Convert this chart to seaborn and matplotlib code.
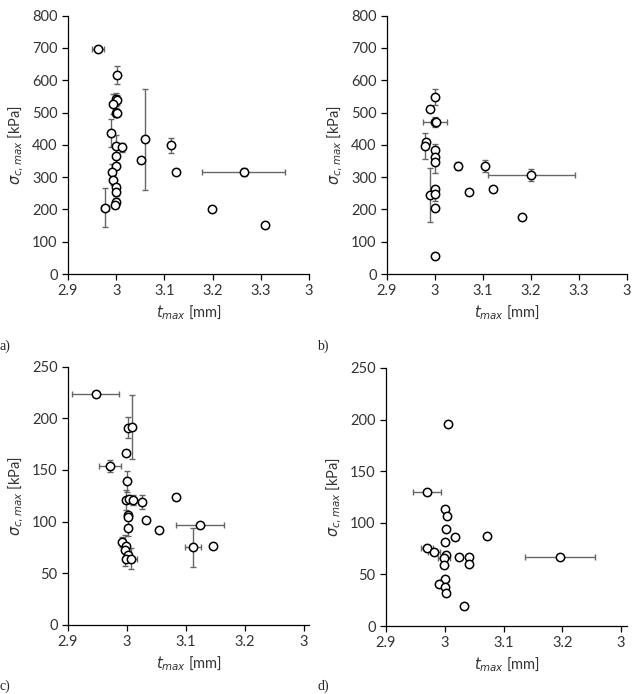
import numpy as np
import pandas as pd
import matplotlib
matplotlib.use("Agg")
import matplotlib.pyplot as plt
import seaborn as sns

sns.set_style("ticks")
plt.rcParams['font.family'] = ['Lato', 'DejaVu Sans']
plt.rcParams['mathtext.fontset'] = 'dejavusans'

# ---- Panel a ----
a_x = [2.962, 3.001, 3.000, 3.002, 2.993, 3.000, 3.002, 2.989, 3.000, 3.011, 2.999, 3.000,
       2.991, 2.994, 3.000, 2.999, 3.000, 2.998, 2.977, 3.060, 3.051, 3.114, 3.125, 3.265,
       3.199, 3.309]
a_y = [696, 616, 541, 538, 526, 500, 498, 436, 397, 392, 365, 334,
       316, 291, 268, 253, 224, 214, 205, 417, 352, 398, 316, 317,
       201, 153]
a_xerr = [0.013, 0, 0, 0, 0, 0, 0, 0, 0, 0, 0, 0,
          0, 0, 0, 0, 0, 0, 0.008, 0, 0, 0, 0, 0.086,
          0, 0]
a_yerr = [0, 27, 20, 15, 30, 15, 10, 43, 35, 15, 25, 10,
          25, 15, 10, 10, 10, 10, 60, 157, 0, 24, 0, 12,
          0, 0]

# ---- Panel b ----
b_x = [3.000, 2.990, 3.000, 3.002, 2.981, 2.979, 3.001, 3.000, 3.001, 3.000, 2.990, 3.001,
       3.001, 2.999, 3.048, 3.070, 3.105, 3.121, 3.181, 3.201]
b_y = [549, 512, 470, 470, 410, 397, 384, 363, 348, 263, 245, 247,
       203, 57, 334, 254, 335, 263, 177, 307]
b_xerr = [0, 0, 0.024, 0, 0, 0, 0.005, 0, 0, 0, 0, 0,
          0, 0, 0, 0, 0, 0, 0, 0.09]
b_yerr = [25, 0, 15, 0, 0, 40, 20, 0, 35, 0, 83, 20,
          0, 0, 12, 0, 18, 0, 0, 18]

# ---- Panel c ----
c_x = [2.947, 3.002, 3.009, 2.999, 2.971, 3.000, 2.998, 3.004, 3.011, 3.025, 3.002, 3.002,
       3.033, 3.001, 3.084, 3.055, 3.124, 3.112, 3.146, 2.992, 2.998, 2.997, 3.002, 2.999,
       3.007]
c_y = [224, 191, 192, 166, 154, 139, 121, 122, 121, 119, 106, 104,
       101, 94, 124, 92, 97, 75, 76, 80, 76, 72, 68, 64,
       64]
c_xerr = [0.04, 0, 0, 0, 0.019, 0, 0, 0, 0, 0, 0, 0,
          0, 0, 0, 0, 0.041, 0.014, 0, 0, 0, 0, 0, 0,
          0.01]
c_yerr = [0, 10, 31, 0, 6, 10, 10, 0, 5, 7, 0, 0,
          0, 8, 3, 0, 0, 19, 0, 5, 0, 15, 0, 0,
          10]

# ---- Panel d ----
d_x = [3.005, 2.970, 3.000, 3.003, 3.002, 3.018, 3.000, 3.072, 2.970, 2.982, 3.002, 2.999,
       3.024, 3.041, 3.042, 2.999, 3.001, 2.991, 3.000, 3.002, 3.033, 3.196]
d_y = [196, 130, 113, 107, 94, 86, 81, 87, 76, 72, 69, 66,
       67, 67, 60, 59, 46, 41, 38, 32, 19, 67]
d_xerr = [0, 0.024, 0, 0, 0, 0, 0, 0, 0.01, 0.01, 0, 0.01,
          0, 0, 0, 0, 0, 0, 0, 0, 0, 0.059]
d_yerr = [0, 0, 0, 0, 0, 0, 0, 0, 0, 0, 0, 0,
          0, 0, 0, 0, 0, 0, 0, 0, 0, 0]

x_ticks_ab = [2.9, 3.0, 3.1, 3.2, 3.3, 3.4]
x_labels_ab = ["2.9", "3", "3.1", "3.2", "3.3", "3"]
x_ticks_cd = [2.9, 3.0, 3.1, 3.2, 3.3]
x_labels_cd = ["2.9", "3", "3.1", "3.2", "3"]
y_ticks_ab = [0, 100, 200, 300, 400, 500, 600, 700, 800]
y_ticks_cd = [0, 50, 100, 150, 200, 250]
panel_labels = ["a)", "b)", "c)", "d)"]

W, H = 634, 694
fig = plt.figure(figsize=(W / 100, H / 100), dpi=100)

def rect(l, r, t, b):
    return [l / W, 1 - b / H, (r - l) / W, (b - t) / H]

panels = [
    (rect(68, 309, 15.7, 274), a_x, a_y, a_xerr, a_yerr, (2.9, 3.4), x_ticks_ab, x_labels_ab, (0, 800), y_ticks_ab),
    (rect(387, 627, 15.7, 274), b_x, b_y, b_xerr, b_yerr, (2.9, 3.4), x_ticks_ab, x_labels_ab, (0, 800), y_ticks_ab),
    (rect(68, 309, 366.7, 624.7), c_x, c_y, c_xerr, c_yerr, (2.9, 3.309), x_ticks_cd, x_labels_cd, (0, 250), y_ticks_cd),
    (rect(386, 627, 368, 626), d_x, d_y, d_xerr, d_yerr, (2.9, 3.31), x_ticks_cd, x_labels_cd, (0, 250), y_ticks_cd),
]

for (r, xs, ys, xe, ye, xl, xt, xtl, yl, yt) in panels:
    ax = fig.add_axes(r)
    ax.errorbar(xs, ys, xerr=xe, yerr=ye, fmt='none', ecolor='#666666',
                elinewidth=1.0, capsize=2.5, capthick=1.0, zorder=2)
    df = pd.DataFrame({"x": xs, "y": ys})
    sns.scatterplot(data=df, x="x", y="y", ax=ax, marker='o', s=36,
                    facecolor='white', edgecolor='black', linewidth=1.1, zorder=3)
    ax.set_xlim(*xl)
    ax.set_ylim(*yl)
    ax.set_xticks(xt)
    ax.set_xticklabels(xtl)
    ax.set_yticks(yt)
    for s in ['top', 'right']:
        ax.spines[s].set_visible(False)
    for s in ['left', 'bottom']:
        ax.spines[s].set_color('black')
        ax.spines[s].set_linewidth(0.9)
    ax.tick_params(axis='both', labelsize=10.5, length=4, width=0.9, colors='black',
                   labelcolor='#333333', direction='out')
    ax.set_xlabel(r"$t_{max}$ [mm]", fontsize=10.5, color='#333333', labelpad=4)
    ax.set_ylabel(r"$\sigma_{c,max}$ [kPa]", fontsize=10.5, color='#333333', labelpad=4)

fig.text(0 / W, 1 - 350 / H, panel_labels[0], family='Liberation Serif', fontsize=10)
fig.text(317 / W, 1 - 350 / H, panel_labels[1], family='Liberation Serif', fontsize=10)
fig.text(0 / W, 1 - 690 / H, panel_labels[2], family='Liberation Serif', fontsize=10)
fig.text(317 / W, 1 - 690 / H, panel_labels[3], family='Liberation Serif', fontsize=10)

fig.savefig("out.png", dpi=100)
